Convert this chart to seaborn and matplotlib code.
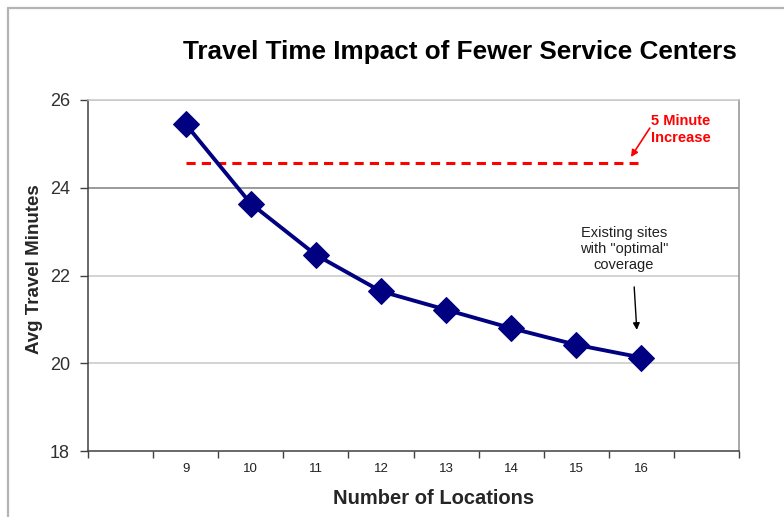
import matplotlib
matplotlib.use("Agg")
import matplotlib.pyplot as plt
from matplotlib.lines import Line2D
import numpy as np
import pandas as pd
import seaborn as sns

# Number of service locations and resulting average travel time
locations = [9, 10, 11, 12, 13, 14, 15, 16]
avg_minutes = [25.45, 23.64, 22.47, 21.64, 21.22, 20.80, 20.42, 20.13]

# Category slots on the x axis (one empty slot on each side)
x_categories = ["", "9", "10", "11", "12", "13", "14", "15", "16", ""]

# Threshold line: five-minute increase level
threshold_minutes = 24.57
threshold_span = [9, 16]

y_ticks = [18, 20, 22, 24, 26]

sns.set_theme(style="white")
plt.rcParams["font.family"] = ["Liberation Sans", "DejaVu Sans"]

fig = plt.figure(figsize=(7.84, 5.17), dpi=100)
ax = fig.add_axes([88 / 784, 1 - 451 / 517, 651 / 784, 351 / 517])

slot = {c: i for i, c in enumerate(x_categories) if c}
df = pd.DataFrame({
    "pos": [slot[str(n)] for n in locations],
    "minutes": avg_minutes,
})

# horizontal gridlines
for yv in y_ticks[1:]:
    ax.axhline(yv, color="#808080" if yv == 24 else "#c8c8c8",
               lw=1.1, zorder=0)

sns.lineplot(data=df, x="pos", y="minutes", ax=ax, color="#000080",
             lw=2.8, marker="D", markersize=13, markeredgecolor="#000080",
             zorder=3)

# dashed threshold line
ax.plot([slot[str(threshold_span[0])], slot[str(threshold_span[1])] - 0.05],
        [threshold_minutes, threshold_minutes],
        color="#ff0000", lw=2.2, ls=(0, (3, 2)), zorder=2)

ax.set_xlim(-0.5, len(x_categories) - 0.5)
ax.set_ylim(18, 26)
ax.set_yticks(y_ticks)
ax.set_yticklabels([str(v) for v in y_ticks], fontsize=13, color="#303030")
ax.set_xticks(range(len(x_categories)))
ax.set_xticklabels(x_categories, fontsize=9.5, color="#202020")
ax.set_xticks(np.arange(-0.5, len(x_categories), 1.0), minor=True)
ax.tick_params(axis="x", which="major", length=0, pad=9)
ax.tick_params(axis="x", which="minor", length=5, width=1, color="#404040",
               direction="out", bottom=True)
ax.tick_params(axis="y", length=6, width=1, color="#404040",
               direction="out", left=True, pad=7)

for side in ["left", "bottom"]:
    ax.spines[side].set_color("#404040")
    ax.spines[side].set_linewidth(1.1)
ax.spines["right"].set_color("#909090")
ax.spines["right"].set_linewidth(1.1)
ax.spines["top"].set_color("#c8c8c8")
ax.spines["top"].set_linewidth(1.1)

ax.set_xlabel("Number of Locations", fontsize=14.5, fontweight="bold")
ax.set_ylabel("Avg Travel Minutes", fontsize=13.5, fontweight="bold")
ax.xaxis.set_label_coords((434 - 88) / 651, (451 - 498) / 351)
ax.yaxis.set_label_coords((35 - 88) / 651, (451 - 269) / 351)
ax.xaxis.label.set_va("center")
ax.yaxis.label.set_va("center")

fig.text(460 / 784, 1 - 52 / 517, "Travel Time Impact of Fewer Service Centers",
         fontsize=18.8, fontweight="bold", ha="center", va="center",
         color="#000000")

# annotations
ax.text(8.61, 25.32, "5 Minute\nIncrease", color="#ff0000", fontsize=10.5,
        fontweight="bold", ha="center", va="center", linespacing=1.25)
ax.annotate("", xy=(7.84, 24.70), xytext=(8.13, 25.36),
            arrowprops=dict(arrowstyle="-|>", color="#ff0000", lw=1.2,
                            mutation_scale=10, shrinkA=0, shrinkB=0))
ax.text(7.73, 22.60, 'Existing sites\nwith "optimal"\ncoverage',
        fontsize=10.5, ha="center", va="center", color="#202020",
        linespacing=1.2)
ax.annotate("", xy=(7.93, 20.76), xytext=(7.89, 21.74),
            arrowprops=dict(arrowstyle="-|>", color="#000000", lw=1.0,
                            mutation_scale=10, shrinkA=0, shrinkB=0))

# outer frame edges
fig.add_artist(Line2D([8 / 784, 8 / 784], [0, 1 - 8 / 517],
                      color="#b4b4b4", lw=1.6))
fig.add_artist(Line2D([8 / 784, 1], [1 - 8 / 517, 1 - 8 / 517],
                      color="#b4b4b4", lw=1.6))

fig.savefig("out.png", dpi=100, facecolor="white")
